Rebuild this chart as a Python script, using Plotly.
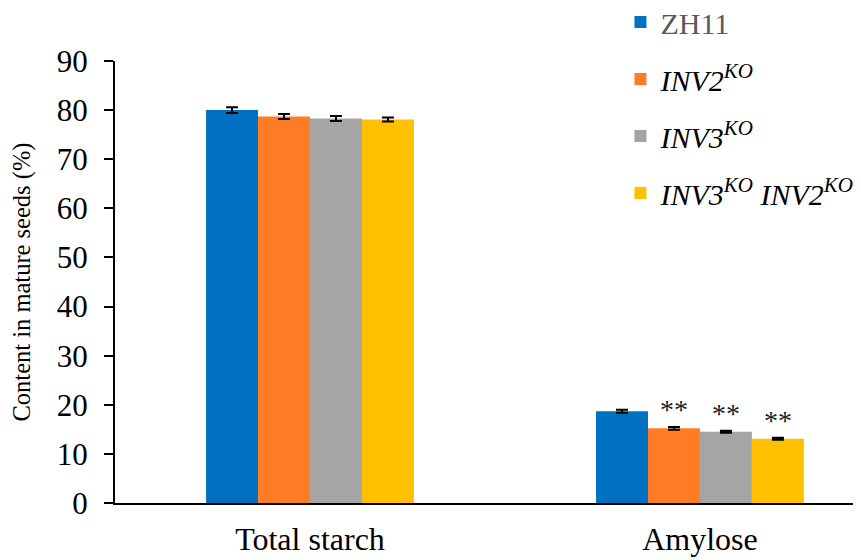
import plotly.graph_objects as go

categories = ["Total starch", "Amylose"]
series_names = [
    '<span style="color:#595959">ZH11</span>',
    "<i>INV2<sup>KO</sup></i>",
    "<i>INV3<sup>KO</sup></i>",
    "<i>INV3<sup>KO</sup> INV2<sup>KO</sup></i>",
]
zh11 = [80.0, 18.7]
inv2 = [78.7, 15.2]
inv3 = [78.3, 14.5]
double = [78.1, 13.1]
zh11_err = [0.6, 0.3]
inv2_err = [0.5, 0.3]
inv3_err = [0.5, 0.2]
double_err = [0.4, 0.2]
zh11_sig = ["", ""]
inv2_sig = ["", "**"]
inv3_sig = ["", "**"]
double_sig = ["", "**"]
y_ticks = [0, 10, 20, 30, 40, 50, 60, 70, 80, 90]

colors = ["#0070C0", "#FF7C24", "#A5A5A5", "#FFC000"]
values = [zh11, inv2, inv3, double]
errs = [zh11_err, inv2_err, inv3_err, double_err]
sigs = [zh11_sig, inv2_sig, inv3_sig, double_sig]

FONT = "Liberation Serif, Times New Roman, serif"

fig = go.Figure()
for i in range(4):
    fig.add_trace(go.Bar(
        x=categories, y=values[i], name=series_names[i],
        marker=dict(color=colors[i], line=dict(width=0)),
        error_y=dict(type="data", array=errs[i], color="black", thickness=2, width=6),
        text=sigs[i], textposition="outside", cliponaxis=False,
        textfont=dict(family=FONT, size=28, color="#222222"),
        legendgroup=str(i),
    ))

# page body adds an 8px margin, so the figure is sized 853x552
fig.update_layout(
    width=853, height=552,
    margin=dict(l=107, r=0, t=53, b=57, autoexpand=False),
    paper_bgcolor="white", plot_bgcolor="white",
    barmode="group", bargap=0.467, bargroupgap=0,
    font=dict(family=FONT, color="black"),
    showlegend=True,
    legend=dict(
        xref="container", yref="paper",
        x=0.718, xanchor="left", y=1.147, yanchor="top",
        font=dict(family=FONT, size=30, color="black"),
        traceorder="grouped", tracegroupgap=15,
        bgcolor="rgba(0,0,0,0)",
    ),
    xaxis=dict(
        range=[-0.5, 1.413], showline=True, linecolor="black", linewidth=2,
        ticks="", tickfont=dict(family=FONT, size=32, color="black"),
        ticklabelstandoff=7,
        showgrid=False, zeroline=False, fixedrange=True, automargin=False,
    ),
    yaxis=dict(
        range=[0, 90], tickvals=y_ticks, showline=True, linecolor="black", linewidth=2,
        ticks="outside", ticklen=9, tickwidth=2, tickcolor="black",
        tickfont=dict(family=FONT, size=31, color="black"),
        ticklabelstandoff=10,
        showgrid=False, zeroline=False, automargin=False,
        title=dict(text="Content in mature seeds (%)", font=dict(family=FONT, size=24.5, color="black"), standoff=20),
    ),
)

fig.write_html("out.html")
